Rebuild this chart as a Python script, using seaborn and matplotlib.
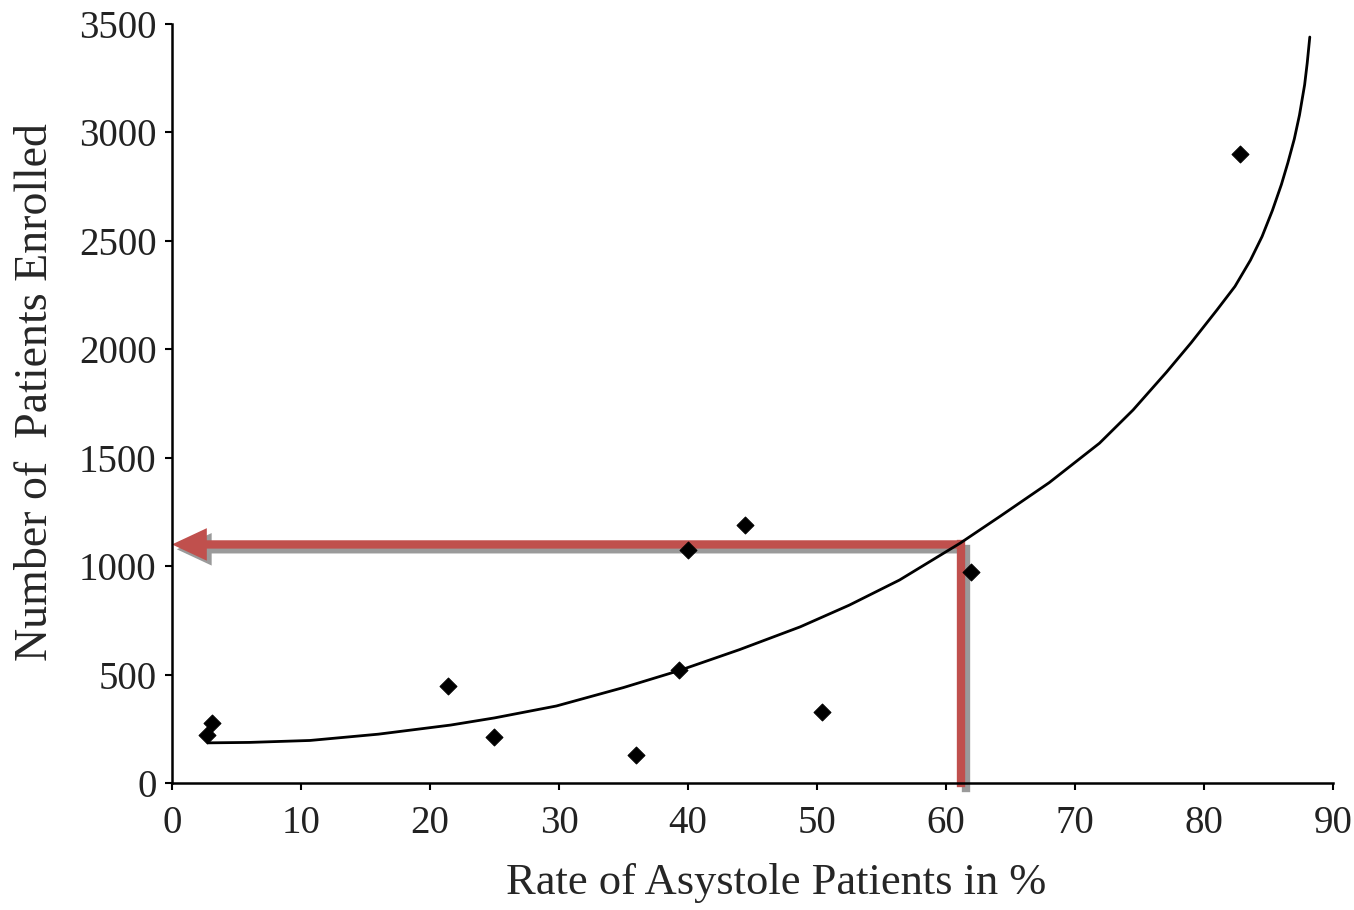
import matplotlib
matplotlib.use("Agg")
import matplotlib.pyplot as plt
import matplotlib.transforms as mtransforms
import seaborn as sns
import pandas as pd

# Data points
asystole_rate = [2.7, 3.1, 21.4, 25.0, 36.0, 39.3, 40.0, 44.4, 50.4, 61.9, 82.8]
patients = [221, 277, 447, 212, 129, 521, 1074, 1189, 327, 973, 2900]

# Trend curve
curve_x = [2.8, 6, 10.7, 16, 21.6, 25, 29.8, 35, 39.3, 44, 48.7, 52.5, 56.4,
           61.1, 64.2, 68, 71.9, 74.5, 77.1, 79, 81.0, 82.4, 83.6, 84.5, 85.3,
           86.0, 86.5, 87.0, 87.4, 87.8, 88.0, 88.2]
curve_y = [185, 187, 196, 225, 267, 300, 355, 440, 518, 615, 720, 820, 936,
           1106, 1230, 1385, 1567, 1720, 1895, 2030, 2181, 2290, 2411, 2520,
           2640, 2760, 2860, 2970, 3080, 3220, 3320, 3440]

# Reading guide (red arrow)
guide_x = 61.2
guide_y = 1100

points = pd.DataFrame({"rate": asystole_rate, "patients": patients})
curve = pd.DataFrame({"rate": curve_x, "patients": curve_y})

sns.set_style("ticks")
plt.rcParams["font.family"] = ["Liberation Serif", "DejaVu Serif"]

fig = plt.figure(figsize=(13.54, 9.10), dpi=100)
ax = fig.add_axes([0.127, 0.1396, 0.8575, 0.834])

sns.lineplot(data=curve, x="rate", y="patients", ax=ax, color="black",
             linewidth=2.0, sort=False, zorder=3)
sns.scatterplot(data=points, x="rate", y="patients", ax=ax, marker="D",
                s=75, color="black", edgecolor="black", zorder=4)

red = "#C0504D"
grey = "#9A9A9A"
lw = 6
shift = mtransforms.ScaledTranslation(3.5 / 72, -3.5 / 72, fig.dpi_scale_trans)
arrow_style = "-|>,head_length=1.5,head_width=0.7"


def guide(color, zorder, trans):
    ax.plot([guide_x, guide_x], [0, guide_y], color=color, linewidth=lw,
            solid_capstyle="projecting", zorder=zorder, clip_on=False,
            transform=trans)
    ax.annotate("", xy=(0, guide_y), xytext=(guide_x, guide_y),
                xycoords=trans, textcoords=trans,
                arrowprops=dict(arrowstyle=arrow_style, color=color, lw=lw,
                                shrinkA=0, shrinkB=0, joinstyle="miter",
                                capstyle="butt"),
                zorder=zorder)


guide(grey, 1, ax.transData + shift)   # drop shadow
guide(red, 2, ax.transData)

ax.set_xlim(0, 90)
ax.set_ylim(0, 3500)
ax.set_xticks(range(0, 91, 10))
ax.set_yticks(range(0, 3501, 500))
ax.set_xlabel("Rate of Asystole Patients in %", fontsize=32, labelpad=15)
ax.set_ylabel("Number of  Patients Enrolled", fontsize=33, labelpad=16)
ax.xaxis.label.set_x(0.52)
ax.yaxis.label.set_y(0.515)
ax.tick_params(axis="both", direction="out", length=5, width=1.5,
               labelsize=28, color="black", labelcolor="#222222")
ax.tick_params(axis="x", pad=11)
ax.tick_params(axis="y", pad=6)
for side in ["left", "bottom"]:
    ax.spines[side].set_linewidth(1.8)
    ax.spines[side].set_color("black")
sns.despine(ax=ax)

fig.savefig("out.png", dpi=100)
plt.close(fig)
